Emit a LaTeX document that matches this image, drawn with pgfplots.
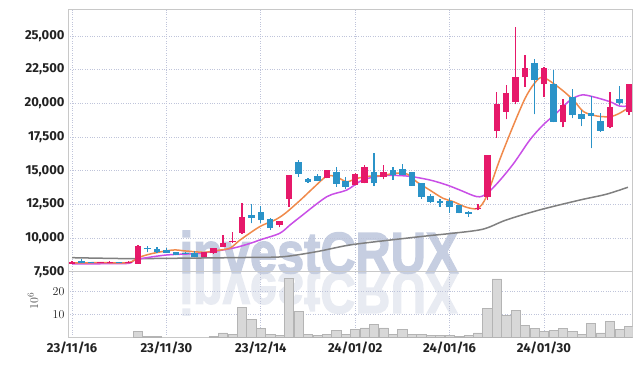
\documentclass[border=0pt]{standalone}
\usepackage{fontspec}
\setmainfont{Fira Sans}
\newfontfamily\wmfont{Liberation Sans}[BoldFeatures={FakeBold=2.5}]
\usepackage{pgfplots}
\usepackage{pgfplotstable}
\pgfplotsset{compat=1.18}

\definecolor{upc}{HTML}{E6196A}
\definecolor{dnc}{HTML}{2B93C8}
\definecolor{ma5}{HTML}{F08A4B}
\definecolor{ma20}{HTML}{C94FE6}
\definecolor{ma60}{HTML}{808080}
\definecolor{gridc}{HTML}{BFC4DA}
\definecolor{framec}{HTML}{C8C8C8}
\definecolor{volfill}{HTML}{D8D8D8}
\definecolor{voledge}{HTML}{B4B4B4}
\definecolor{wmc}{HTML}{C6CEE1}
\definecolor{wmc2}{HTML}{E8EBF2}
\definecolor{labc}{HTML}{222222}

% up candles (close >= open)
\pgfplotstableread{
i  o      h      l      c
0  8100   8280   8080   8250
3  8160   8200   8150   8190
4  8150   8260   8130   8240
6  8180   8260   8160   8240
7  8100   9460   8080   9420
14 8614   8940   8600   8940
15 8866   9250   8850   9237
16 9356   10225  9330   9608
17 9727   10425  9650   9801
18 10373  12578  10299  11561
22 10989  11264  10796  11264
23 12919  14700  12326  14679
27 14456  15050  14456  15050
30 13935  14800  13935  14753
31 14063  15421  14063  15295
33 14553  15421  14360  14902
43 12200  12500  12050  12260
44 13068  16164  12823  16164
45 17968  20863  17448  19928
46 19378  21360  18814  20744
47 20076  25689  19928  21954
48 21932  23588  21234  22645
50 21412  22720  20500  22600
52 18591  20299  18220  19876
57 18265  20863  18146  19705
59 19378  21435  19133  21435
}\upc

% down candles (close < open)
\pgfplotstableread{
i  o      h      l      c
1  8300   8450   8150   8170
2  8200   8220   8150   8160
5  8240   8250   8180   8200
8  9280   9430   8940   9160
9  9190   9360   8900   8940
10 9110   9240   8900   8920
11 8940   8960   8720   8740
12 8900   8950   8800   8860
13 8866   9037   8560   8569
19 11709  12526  11093  11509
20 11932  12378  11138  11338
21 11412  11450  10596  10767
24 15644  15793  14553  14753
25 14382  14450  14100  14159
26 14605  14753  14256  14256
28 14902  15295  13810  14033
29 14233  14553  13662  13810
32 14902  16290  13862  14063
34 15050  15295  14308  14679
35 15124  15496  14679  14679
36 14902  14902  13885  13885
37 14063  14063  12919  13068
38 13142  13246  12578  12697
39 12771  12919  12326  12578
40 12749  12950  11858  12281
41 12452  12452  11836  11836
42 11910  11980  11583  11784
49 22971  23291  19185  21732
51 21435  22474  18590  18636
53 20492  21041  18888  19133
54 19208  19505  18317  18836
55 19260  20566  16661  19082
56 18688  19260  17894  17968
58 20321  21286  19876  20002
}\dnc

% volume (millions)
\pgfplotstableread{
i  v
7  2.7
8  0.4
9  0.4
15 0.4
16 1.9
17 1.4
18 13.2
19 8.0
20 4.0
21 1.4
22 1.0
23 25.8
24 11.3
25 1.4
26 1.0
27 1.2
28 3.0
29 1.45
30 3.6
31 4.1
32 5.8
33 4.1
34 1.45
35 3.5
36 1.45
37 1.3
38 0.9
39 0.9
40 0.9
41 0.3
42 0.9
43 1.9
44 12.6
45 25.7
46 9.7
47 11.7
48 5.2
49 3.9
50 2.75
51 3.0
52 3.9
53 2.75
54 1.45
55 6.1
56 1.9
57 7.0
58 3.5
59 4.8
}\vol

\begin{document}
\begin{tikzpicture}
\useasboundingbox (0pt,0pt) rectangle (642pt,366pt);

% watermark
\node[anchor=base, inner sep=0pt, xscale=0.84, text=wmc2,
      font=\wmfont\bfseries\fontsize{58}{60}\selectfont, yscale=-1]
      at (319pt,93pt) {investCRUX};
\node[anchor=base, inner sep=0pt, xscale=0.84, text=wmc,
      font=\wmfont\bfseries\fontsize{58}{60}\selectfont]
      at (319pt,93pt) {investCRUX};

\pgfplotsset{
  chartbase/.style={
    scale only axis,
    width=564.7pt,
    xmin=-0.424, xmax=59.4,
    xtick={0,10,20,30,40,50},
    grid=major,
    grid style={dotted, color=gridc, line width=0.8pt},
    axis line style={draw=framec, line width=0.8pt},
    major tick length=0pt,
    scaled y ticks=false,
    tick label style={font=\bfseries\fontsize{13}{13}\selectfont, text=labc},
  },
  candle/.style={only marks, mark=*, mark size=0pt,
    mark options={draw=none, fill=none},
    error bars/.cd, y dir=plus, y explicit, error mark=none},
}

% price panel
\begin{axis}[chartbase,
  at={(68pt,94.3pt)}, anchor=south west,
  height=262.4pt,
  ymin=7500, ymax=26982,
  ytick={7500,10000,12500,15000,17500,20000,22500,25000},
  yticklabels={{7,500},{10,000},{12,500},{15,000},{17,500},{20,000},{22,500},{25,000}},
  xticklabels={},
  clip=true,
]
% moving averages
\addplot[color=ma60, line width=1.5pt, smooth] coordinates {
(0,8540) (6,8470) (10,8490) (19,8560) (22.4,8614) (25.9,8985) (29.4,9480)
(33.7,9850) (37.9,10180) (40,10330) (43.5,10650) (46,11340) (49.5,12080)
(53.8,12820) (56.6,13250) (58.9,13770)};
\addplot[color=ma20, line width=1.5pt, smooth] coordinates {
(0,8080) (3,8090) (6,8120) (6.8,8400) (10,8740) (13.6,8870) (17,9240)
(18.9,9610) (20,9880) (22,10350) (23.1,10970) (24.2,11580) (27,13070)
(29.1,13560) (30.8,14310) (33,14630) (35.5,14600) (37.9,14310) (39.7,13940)
(41.1,13560) (42.9,13070) (43.9,13270) (45.2,14180) (46.8,15550) (48.5,17280)
(49.9,18390) (51.3,19260) (52.8,20250) (54,20620) (55.2,20490) (57,20120)
(58,19800) (59,19800)};
\addplot[color=ma5, line width=1.5pt, smooth] coordinates {
(0,8150) (3,8170) (6,8180) (7,8540) (8.5,8850) (10.7,9110) (12,9040)
(14,8940) (15,9050) (16.7,9240) (17.8,9850) (19.9,10850) (21.5,11340)
(22.6,11840) (24.2,12820) (25.7,13810) (27,14600) (28,14550) (29.1,14180)
(30.2,14430) (31.6,14600) (33,14630) (34,14800) (35.5,14750) (36.5,14180)
(37.9,13560) (39.3,12950) (40.4,12700) (41.8,12280) (43,12210) (43.9,13070)
(45.3,15790) (46.7,18260) (48,20370) (49,21490) (49.9,21930) (51.7,21110)
(53.1,20250) (54.2,19380) (55.6,19060) (57,19010) (58,19260) (59,19700)};

% wicks
\addplot[candle, error bar style={draw=upc, line width=1.3pt}]
  table[x=i, y=l, y error expr=\thisrow{h}-\thisrow{l}] {\upc};
\addplot[candle, error bar style={draw=dnc, line width=1.3pt}]
  table[x=i, y=l, y error expr=\thisrow{h}-\thisrow{l}] {\dnc};
% bodies
\addplot[candle, error bar style={draw=upc, line width=6.5pt, line cap=butt}]
  table[x=i, y=o, y error expr=\thisrow{c}-\thisrow{o}] {\upc};
\addplot[candle, error bar style={draw=dnc, line width=6.5pt, line cap=butt}]
  table[x=i, y=c, y error expr=\thisrow{o}-\thisrow{c}] {\dnc};
\end{axis}

% volume panel
\begin{axis}[chartbase,
  at={(68pt,28.7pt)}, anchor=south west,
  height=65.6pt,
  ymin=0, ymax=28.9,
  ytick={10,20},
  xticklabels={23/11/16,23/11/30,23/12/14,24/01/02,24/01/16,24/01/30},
  xticklabel style={yshift=-1pt},
  ylabel={$10^6$},
  ylabel style={at={(axis description cs:-0.062,0.55)}, anchor=center,
    font=\fontsize{13}{13}\selectfont, text=labc!80},
]
\addplot[ybar, bar width=9.2pt, fill=volfill, draw=voledge, line width=0.6pt]
  table[x=i, y=v] {\vol};
\end{axis}
\end{tikzpicture}
\end{document}
